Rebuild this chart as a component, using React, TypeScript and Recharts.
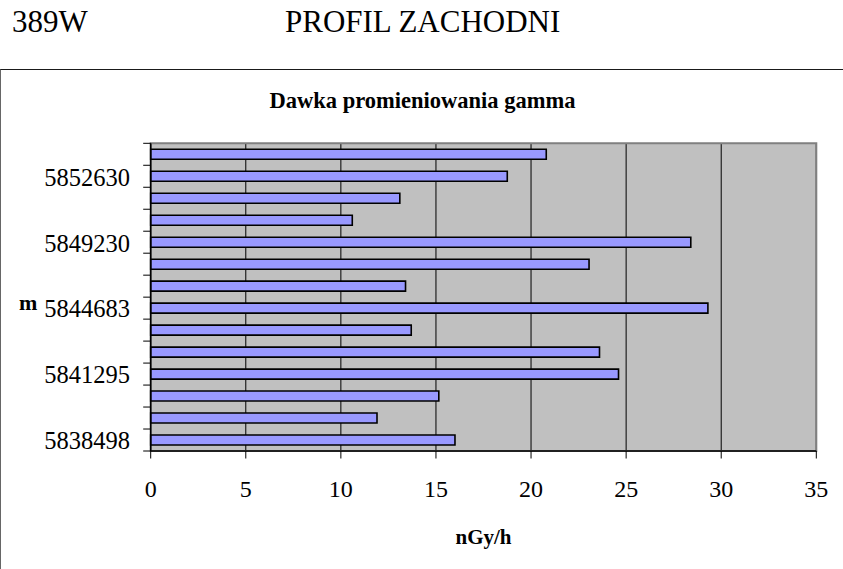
import React from 'react';
import { BarChart, Bar, XAxis, YAxis, CartesianGrid, ReferenceArea } from 'recharts';

// categories listed bottom-to-top (northing, m); only every third label is printed
const categories = [
  '5838498', '', '', '5841295', '', '', '5844683', '', '', '5849230', '', '', '5852630', '',
];
// dose rate, nGy/h, bottom-to-top
const doseValues = [16.0, 11.9, 15.15, 24.6, 23.6, 13.7, 29.3, 13.4, 23.05, 28.4, 10.6, 13.1, 18.75, 20.8];
const xTicks = [0, 5, 10, 15, 20, 25, 30, 35];

const data = categories.map((name, i) => ({ name, dose: doseValues[i] }));

const W = 843;
const H = 569;
const M_TOP = 143.3;
const M_RIGHT = 26.7;
const Y_AXIS_W = 150.7;
const X_AXIS_H = 60;
const M_BOTTOM = H - 451 - X_AXIS_H;
const BAND = (H - M_TOP - M_BOTTOM - X_AXIS_H) / categories.length;
const FONT = '"Liberation Serif", "Times New Roman", serif';

const YTick = (props: any) => {
  const { y, index, payload } = props;
  const ax = Y_AXIS_W;
  const label = payload && payload.value;
  return (
    <g>
      <line x1={ax - 7.5} x2={ax} y1={y - BAND / 2} y2={y - BAND / 2} stroke="#000" strokeWidth={1} />
      {index === 0 && (
        <line x1={ax - 7.5} x2={ax} y1={y + BAND / 2} y2={y + BAND / 2} stroke="#000" strokeWidth={1} />
      )}
      {label ? (
        <text x={130} y={y} dy="0.38em" textAnchor="end" fontFamily={FONT} fontSize={24.5} fill="#000">
          {label}
        </text>
      ) : null}
    </g>
  );
};

export default function App() {
  return (
    <div style={{ position: 'absolute', left: 0, top: 0, width: W, height: H, background: '#fff', overflow: 'hidden' }}>
      <div style={{ position: 'absolute', left: 12, top: 2, fontFamily: FONT, fontSize: 31, lineHeight: '40px', color: '#000' }}>
        389W
      </div>
      <div style={{ position: 'absolute', left: 285, top: 2, fontFamily: FONT, fontSize: 31, lineHeight: '40px', color: '#000' }}>
        PROFIL ZACHODNI
      </div>
      <div
        style={{
          position: 'absolute',
          left: 0,
          top: 68.5,
          width: W + 10,
          height: H,
          borderTop: '1.5px solid #1a1a1a',
          borderLeft: '1.2px solid #666',
          boxSizing: 'border-box',
        }}
      />
      <div
        style={{
          position: 'absolute',
          left: 0,
          width: W + 2,
          top: 87,
          textAlign: 'center',
          fontFamily: FONT,
          fontWeight: 'bold',
          fontSize: 22.5,
          lineHeight: '28px',
          color: '#000',
        }}
      >
        Dawka promieniowania gamma
      </div>
      <div style={{ position: 'absolute', left: 19, top: 289, fontFamily: FONT, fontWeight: 'bold', fontSize: 22, lineHeight: '28px', color: '#000' }}>
        m
      </div>
      <div style={{ position: 'absolute', left: 0, top: 0 }}>
        <BarChart
          width={W}
          height={H}
          data={data}
          layout="vertical"
          margin={{ top: M_TOP, right: M_RIGHT, bottom: M_BOTTOM, left: 0 }}
          barCategoryGap={0}
        >
          <CartesianGrid horizontal={false} vertical={true} stroke="#000" strokeWidth={1} fill="#C0C0C0" fillOpacity={1} />
          <XAxis
            type="number"
            domain={[0, 35]}
            ticks={xTicks}
            interval={0}
            height={X_AXIS_H}
            axisLine={{ stroke: '#000', strokeWidth: 1.5 }}
            tickLine={{ stroke: '#000', strokeWidth: 1 }}
            tickSize={7.5}
            tickMargin={21}
            tick={{ fontFamily: FONT, fontSize: 24, fill: '#000' }}
            label={{
              value: 'nGy/h',
              position: 'insideBottom',
              offset: -33,
              fontFamily: FONT,
              fontWeight: 'bold',
              fontSize: 21,
              fill: '#000',
            }}
          />
          <YAxis
            type="category"
            dataKey="name"
            reversed
            width={Y_AXIS_W}
            interval={0}
            axisLine={{ stroke: '#000', strokeWidth: 1.5 }}
            tickLine={false}
            tick={YTick}
          />
          <ReferenceArea x1={0} x2={35} fill="none" stroke="#808080" strokeWidth={2} ifOverflow="visible" />
          <Bar
            dataKey="dose"
            fill="#9999FF"
            stroke="#000"
            strokeWidth={1.6}
            barSize={10}
            isAnimationActive={false}
          />
        </BarChart>
      </div>
    </div>
  );
}
